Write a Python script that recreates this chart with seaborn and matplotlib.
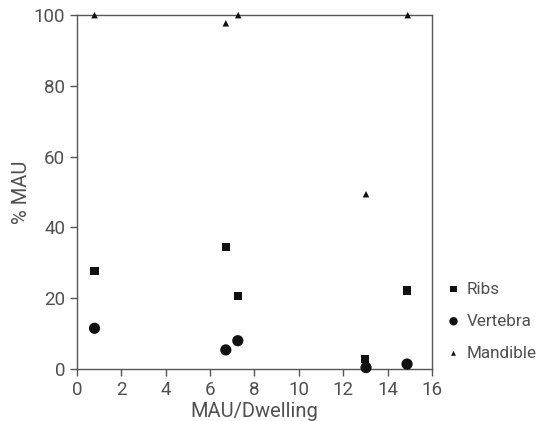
import matplotlib
matplotlib.use("Agg")
import matplotlib.pyplot as plt
import seaborn as sns
import pandas as pd

x_ribs = [0.79, 6.71, 7.25, 12.99, 14.88]
y_ribs = [27.7, 34.5, 20.6, 2.8, 22.2]
x_vert = [0.79, 6.71, 7.25, 13.03, 14.88]
y_vert = [11.5, 5.4, 8.0, 0.4, 1.4]
x_mand = [0.79, 6.71, 7.27, 13.03, 14.91]
y_mand = [100.0, 97.7, 100.0, 49.4, 100.0]
series = ["Ribs", "Vertebra", "Mandible"]
x_ticks = [0, 2, 4, 6, 8, 10, 12, 14, 16]
y_ticks = [0, 20, 40, 60, 80, 100]

df = pd.concat([
    pd.DataFrame({"x": x_ribs, "y": y_ribs, "part": "Ribs"}),
    pd.DataFrame({"x": x_vert, "y": y_vert, "part": "Vertebra"}),
    pd.DataFrame({"x": x_mand, "y": y_mand, "part": "Mandible"}),
])

sns.set_style("ticks")
plt.rcParams['font.family'] = ['Roboto', 'DejaVu Sans']
plt.rcParams['font.weight'] = 'normal'

fig = plt.figure(figsize=(5.46, 4.21), dpi=100)
ax = fig.add_axes([0.141, 0.1235, 0.65, 0.8405])

markers = {"Ribs": "s", "Vertebra": "o", "Mandible": "^"}
sizes = {"Ribs": 38, "Vertebra": 65, "Mandible": 22}
for name in series:
    sub = df[df["part"] == name]
    sns.scatterplot(data=sub, x="x", y="y", marker=markers[name], s=sizes[name],
                    color="#111111", edgecolor="none", ax=ax, label=name, clip_on=False, zorder=3)

ax.set_xlim(0, 16)
ax.set_ylim(0, 100)
ax.set_xticks(x_ticks)
ax.set_yticks(y_ticks)
txtc = "#505050"
ax.tick_params(axis="both", labelsize=13.5, color="#555555", length=5, width=1, direction="out")
for lab in ax.get_xticklabels() + ax.get_yticklabels():
    lab.set_color(txtc)
for side in ["top", "right"]:
    ax.spines[side].set_visible(True)
for sp in ax.spines.values():
    sp.set_color("#555555")
    sp.set_linewidth(1.0)
ax.tick_params(top=False, right=False)
ax.set_xlabel("MAU/Dwelling", fontsize=14.5, color=txtc, labelpad=2)
ax.set_ylabel("% MAU", fontsize=14.5, color=txtc, labelpad=2)

leg = ax.legend(loc="center left", bbox_to_anchor=(1.02, 0.135), frameon=False, borderaxespad=0,
                fontsize=12.3, handletextpad=0.3, handlelength=0.9, labelspacing=1.0, markerscale=0.75)
for t in leg.get_texts():
    t.set_color(txtc)

fig.savefig("out.png", dpi=100)
